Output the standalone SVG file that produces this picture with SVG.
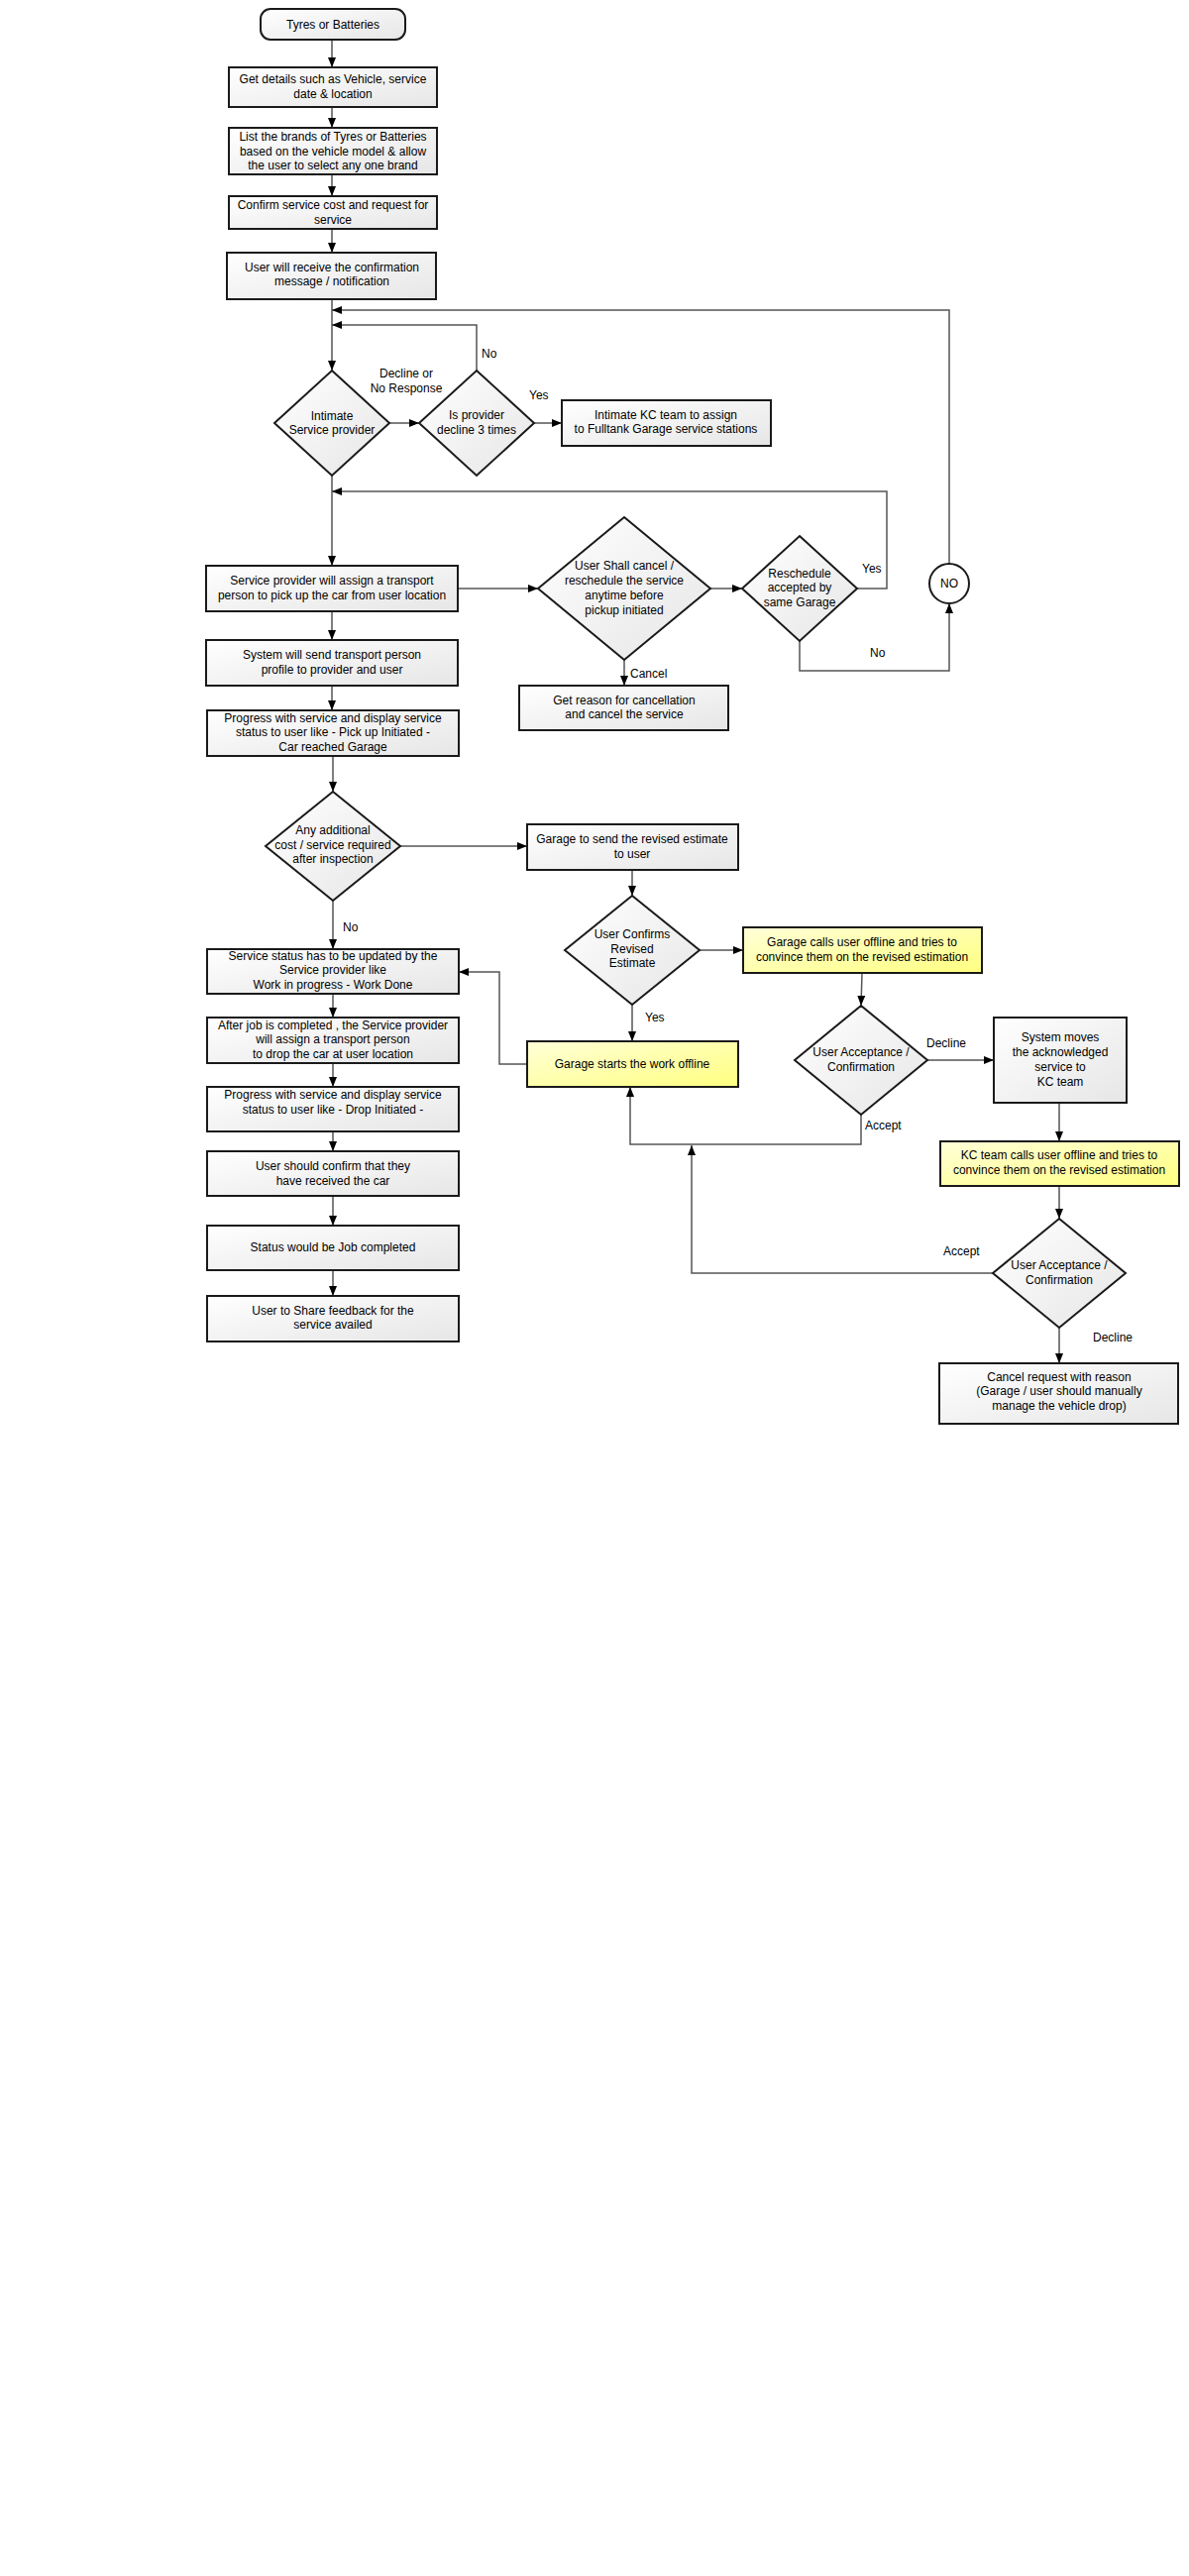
<svg xmlns="http://www.w3.org/2000/svg" width="1200" height="2600" viewBox="0 0 1200 2600">
<defs>
<linearGradient id="gGray" x1="0" y1="0" x2="1" y2="1">
<stop offset="0" stop-color="#ffffff"/>
<stop offset="1" stop-color="#e6e6e6"/>
</linearGradient>
<linearGradient id="gYellow" x1="0" y1="0" x2="1" y2="1">
<stop offset="0" stop-color="#ffffd8"/>
<stop offset="1" stop-color="#ffff80"/>
</linearGradient>
<marker id="arr" viewBox="0 0 10 8" refX="10" refY="4" markerWidth="10" markerHeight="8" markerUnits="userSpaceOnUse" orient="auto">
<path d="M0,0 L10,4 L0,8 z" fill="#000"/>
</marker>
<style>
.box{fill:url(#gGray);stroke:#1a1a1a;stroke-width:2}
.ybox{fill:url(#gYellow);stroke:#1a1a1a;stroke-width:2}
.dia{fill:url(#gGray);stroke:#1a1a1a;stroke-width:2}
.t{font-family:"Liberation Sans",Arial,sans-serif;font-size:12px;fill:#000;text-anchor:middle}
.l{font-family:"Liberation Sans",Arial,sans-serif;font-size:12px;fill:#000}
.c{fill:none;stroke:#555;stroke-width:1.5}
.a{marker-end:url(#arr)}
</style>
</defs>
<rect width="1200" height="2600" fill="#ffffff"/>

<g id="connectors">
<path class="c a" d="M335,41 V68"/>
<path class="c a" d="M335,108 V129"/>
<path class="c a" d="M335,176 V198"/>
<path class="c a" d="M335,231 V255"/>
<path class="c a" d="M335,302 V374"/>
<path class="c a" d="M393,427 H423"/>
<path class="c a" d="M481,374 V328 H335"/>
<path class="c a" d="M539,427 H567"/>
<path class="c a" d="M335,480 V571"/>
<path class="c a" d="M462,594 H543"/>
<path class="c a" d="M717,594 H749"/>
<path class="c a" d="M865,594 H895 V496 H335"/>
<path class="c a" d="M807,647 V677 H958 V609"/>
<path class="c a" d="M958,569 V313 H335"/>
<path class="c a" d="M630,666 V692"/>
<path class="c a" d="M335,617 V646"/>
<path class="c a" d="M335,692 V717"/>
<path class="c a" d="M336,763 V799"/>
<path class="c a" d="M404,854 H532"/>
<path class="c a" d="M336,909 V958"/>
<path class="c a" d="M638,878 V904"/>
<path class="c a" d="M706,959 H750"/>
<path class="c a" d="M638,1014 V1051"/>
<path class="c a" d="M532,1074 H504 V981 H463"/>
<path class="c a" d="M870,982 L869,1015"/>
<path class="c a" d="M936,1070 H1003"/>
<path class="c a" d="M869,1125 V1155 H636 V1097"/>
<path class="c a" d="M1069,1113 V1152"/>
<path class="c a" d="M1069,1197 V1230"/>
<path class="c a" d="M1002,1285 H698 V1156"/>
<path class="c a" d="M1069,1340 V1376"/>
<path class="c a" d="M336,1003 V1027"/>
<path class="c a" d="M336,1073 V1097"/>
<path class="c a" d="M336,1142 V1162"/>
<path class="c a" d="M336,1207 V1237"/>
<path class="c a" d="M336,1282 V1308"/>
<text class="l" x="410" y="381" text-anchor="middle">Decline or</text>
<text class="l" x="410" y="396" text-anchor="middle">No Response</text>
<text class="l" x="486" y="361">No</text>
<text class="l" x="534" y="403">Yes</text>
<text class="l" x="636" y="684">Cancel</text>
<text class="l" x="870" y="578">Yes</text>
<text class="l" x="878" y="663">No</text>
<text class="l" x="346" y="940">No</text>
<text class="l" x="651" y="1031">Yes</text>
<text class="l" x="935" y="1057">Decline</text>
<text class="l" x="873" y="1140">Accept</text>
<text class="l" x="952" y="1267">Accept</text>
<text class="l" x="1103" y="1354">Decline</text>
</g>

<g id="start"><rect class="box" x="263" y="9" width="146" height="31" rx="10"/><text class="t" x="336" y="29">Tyres or Batteries</text></g>
<g id="get-details"><rect class="box" x="231" y="68" width="210" height="40"/><text class="t" x="336" y="84">Get details such as Vehicle, service</text><text class="t" x="336" y="98.5">date &amp; location</text></g>
<g id="list-brands"><rect class="box" x="231" y="129" width="210" height="47"/><text class="t" x="336" y="142">List the brands of Tyres or Batteries</text><text class="t" x="336" y="156.5">based on the vehicle model &amp; allow</text><text class="t" x="336" y="171">the user to select any one brand</text></g>
<g id="confirm-cost"><rect class="box" x="231" y="198" width="210" height="33"/><text class="t" x="336" y="211">Confirm service cost and request for</text><text class="t" x="336" y="225.5">service</text></g>
<g id="receive-confirmation"><rect class="box" x="229" y="255" width="211" height="47"/><text class="t" x="335" y="273.5">User will receive the confirmation</text><text class="t" x="335" y="288">message / notification</text></g>
<g id="intimate-provider"><polygon class="dia" points="335,374 393,427 335,480 277,427"/><text class="t" x="335" y="423.5">Intimate</text><text class="t" x="335" y="438">Service provider</text></g>
<g id="decline-3-times"><polygon class="dia" points="481,374 539,427 481,480 423,427"/><text class="t" x="481" y="423">Is provider</text><text class="t" x="481" y="437.5">decline 3 times</text></g>
<g id="intimate-kc"><rect class="box" x="567" y="404" width="211" height="46"/><text class="t" x="672" y="422.5">Intimate KC team to assign</text><text class="t" x="672" y="437">to Fulltank Garage service stations</text></g>
<g id="assign-transport"><rect class="box" x="208" y="571" width="254" height="46"/><text class="t" x="335" y="590">Service provider will assign a transport</text><text class="t" x="335" y="604.5">person to pick up the car from user location</text></g>
<g id="user-cancel"><polygon class="dia" points="630,522 717,594 630,666 543,594"/><text class="t" x="630" y="575">User Shall cancel /</text><text class="t" x="630" y="590">reschedule the service</text><text class="t" x="630" y="604.5">anytime before</text><text class="t" x="630" y="619.5">pickup initiated</text></g>
<g id="reschedule"><polygon class="dia" points="807,541 865,594 807,647 749,594"/><text class="t" x="807" y="582.5">Reschedule</text><text class="t" x="807" y="597">accepted by</text><text class="t" x="807" y="612">same Garage</text></g>
<g id="no-circle"><circle cx="958" cy="589" r="20" fill="#fff" stroke="#1a1a1a" stroke-width="2"/><text class="t" x="958" y="593">NO</text></g>
<g id="get-reason"><rect class="box" x="524" y="692" width="211" height="45"/><text class="t" x="630" y="710.5">Get reason for cancellation</text><text class="t" x="630" y="725">and cancel the service</text></g>
<g id="send-profile"><rect class="box" x="208" y="646" width="254" height="46"/><text class="t" x="335" y="665">System will send transport person</text><text class="t" x="335" y="679.5">profile to provider and user</text></g>
<g id="progress-pickup"><rect class="box" x="209" y="717" width="254" height="46"/><text class="t" x="336" y="728.5">Progress with service and display service</text><text class="t" x="336" y="743">status to user like - Pick up Initiated -</text><text class="t" x="336" y="757.5">Car reached Garage</text></g>
<g id="additional-cost"><polygon class="dia" points="336,799 404,854 336,909 268,854"/><text class="t" x="336" y="842">Any additional</text><text class="t" x="336" y="856.5">cost / service required</text><text class="t" x="336" y="871">after inspection</text></g>
<g id="send-estimate"><rect class="box" x="532" y="832" width="213" height="46"/><text class="t" x="638" y="851">Garage to send the revised estimate</text><text class="t" x="638" y="865.5">to user</text></g>
<g id="user-confirms"><polygon class="dia" points="638,904 706,959 638,1014 570,959"/><text class="t" x="638" y="947">User Confirms</text><text class="t" x="638" y="961.5">Revised</text><text class="t" x="638" y="976">Estimate</text></g>
<g id="garage-calls"><rect class="ybox" x="750" y="936" width="241" height="46"/><text class="t" x="870" y="955">Garage calls user offline and tries to</text><text class="t" x="870" y="969.5">convince them on the revised estimation</text></g>
<g id="garage-starts"><rect class="ybox" x="532" y="1051" width="213" height="46"/><text class="t" x="638" y="1078">Garage starts the work offline</text></g>
<g id="acceptance-1"><polygon class="dia" points="869,1015 936,1070 869,1125 802,1070"/><text class="t" x="869" y="1066">User Acceptance /</text><text class="t" x="869" y="1080.5">Confirmation</text></g>
<g id="system-moves"><rect class="box" x="1003" y="1027" width="134" height="86"/><text class="t" x="1070" y="1051">System moves</text><text class="t" x="1070" y="1066">the acknowledged</text><text class="t" x="1070" y="1081">service to</text><text class="t" x="1070" y="1096">KC team</text></g>
<g id="kc-calls"><rect class="ybox" x="949" y="1152" width="241" height="45"/><text class="t" x="1069" y="1170">KC team calls user offline and tries to</text><text class="t" x="1069" y="1184.5">convince them on the revised estimation</text></g>
<g id="acceptance-2"><polygon class="dia" points="1069,1230 1136,1285 1069,1340 1002,1285"/><text class="t" x="1069" y="1281">User Acceptance /</text><text class="t" x="1069" y="1295.5">Confirmation</text></g>
<g id="cancel-request"><rect class="box" x="948" y="1376" width="241" height="61"/><text class="t" x="1069" y="1393.5">Cancel request with reason</text><text class="t" x="1069" y="1408">(Garage / user should manually</text><text class="t" x="1069" y="1422.5">manage the vehicle drop)</text></g>
<g id="status-update"><rect class="box" x="209" y="958" width="254" height="45"/><text class="t" x="336" y="968.5">Service status has to be updated by the</text><text class="t" x="336" y="983">Service provider like</text><text class="t" x="336" y="997.5">Work in progress - Work Done</text></g>
<g id="assign-drop"><rect class="box" x="209" y="1027" width="254" height="46"/><text class="t" x="336" y="1038.5">After job is completed , the Service provider</text><text class="t" x="336" y="1053">will assign a transport person</text><text class="t" x="336" y="1067.5">to drop the car at user location</text></g>
<g id="progress-drop"><rect class="box" x="209" y="1097" width="254" height="45"/><text class="t" x="336" y="1109">Progress with service and display service</text><text class="t" x="336" y="1123.5">status to user like - Drop Initiated -</text></g>
<g id="confirm-received"><rect class="box" x="209" y="1162" width="254" height="45"/><text class="t" x="336" y="1181">User should confirm that they</text><text class="t" x="336" y="1195.5">have received the car</text></g>
<g id="job-completed"><rect class="box" x="209" y="1237" width="254" height="45"/><text class="t" x="336" y="1263">Status would be Job completed</text></g>
<g id="feedback"><rect class="box" x="209" y="1308" width="254" height="46"/><text class="t" x="336" y="1326.5">User  to Share feedback for the</text><text class="t" x="336" y="1341">service availed</text></g>
</svg>
